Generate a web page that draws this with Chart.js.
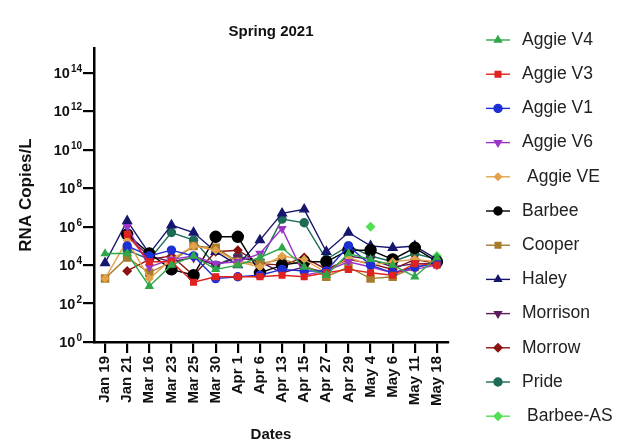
<!DOCTYPE html>
<html>
<head>
<meta charset="utf-8">
<script src="https://cdn.jsdelivr.net/npm/chart.js@4"></script>
<style>
  html, body { margin: 0; padding: 0; background: #fff; }
  #wrap { width: 621px; height: 444px; }
</style>
</head>
<body>
<div id="wrap"><canvas id="rnaChart" width="621" height="444"></canvas></div>
<script>
// Sampling dates (x categories)
const dates = ['Jan 19', 'Jan 21', 'Mar 16', 'Mar 23', 'Mar 25', 'Mar 30', 'Apr 1', 'Apr 6',
  'Apr 13', 'Apr 15', 'Apr 27', 'Apr 29', 'May 4', 'May 6', 'May 11', 'May 18'];

// Y ticks: value and the exponent printed after "10"
const yTickValues = [1, 1e2, 1e4, 1e6, 1e8, 1e10, 1e12, 1e14];
const yTickExponents = ['0', '2', '4', '6', '8', '10', '12', '14'];

// RNA copies / L per site
const aggieV4 = [4e4, 4e4, 8e2, 1e4, 3e4, 6e3, 1e4, 2.5e4, 8e4, 8e3, 3e3, 4e4, 2e4, 1e4, 2.5e3, 2.5e4];
const aggieV3 = [null, 4e5, 1.5e4, 1.5e4, 1.3e3, 2.5e3, 2.5e3, 2.5e3, 3e3, 2.5e3, 4e3, 6e3, 4e3, 3e3, 1.2e4, 1e4];
const aggieV1 = [null, 1e5, 3e4, 6e4, 3e4, 2e3, 2.5e3, 3e3, 6e3, 5e3, 5e3, 1e5, 1e4, 4e3, 8e3, 1.2e4];
const aggieV6 = [null, 1e6, 8e3, 2e4, 3e4, 1.2e4, 1.5e4, 4e4, 8e5, 3e3, 5e3, 1.5e4, 8e3, 4e3, 6e3, 1e4];
const aggieVE = [2e3, 2e5, 2e3, 2e4, 1e5, 6e4, 1.5e4, 8e3, 3e4, 2e4, 4e3, 2.5e4, 1e4, 1.5e4, 2e4, 1.5e4];
const barbee = [null, 4e5, 4e4, 6e3, 3e3, 3e5, 3e5, 4e3, 1e4, 1.5e4, 1.5e4, 6e4, 6e4, 2e4, 8e4, 1.5e4];
const cooper = [2e3, 2.5e4, 4e3, 1.5e4, 1e5, 8e4, 1.5e4, 1.2e4, 2e4, 1e4, 2.5e3, 8e3, 2e3, 2.5e3, 8e3, 1.2e4];
const haley = [1.3e4, 2e6, 4e4, 1.2e6, 5e5, 5e4, 1e4, 2e5, 5e6, 8e6, 5e4, 5e5, 1e5, 8e4, 1e5, 2e4];
const morrison = [null, 3e5, 3e4, 1.5e4, 2.5e4, 1e4, 2.5e4, 1.5e4, 4e3, 8e3, 4e3, 3e4, 2e4, 8e3, 1.2e4, 1.2e4];
const morrow = [null, 5e3, 2e4, 3e4, 3e3, 5e4, 6e4, 1.2e4, 1e4, 2.5e4, 6e3, 2e4, 1.2e4, 6e3, 2e4, 1.2e4];
const pride = [null, 6e4, 2e4, 5e5, 2e5, 1e4, 3e4, 1.5e4, 2.5e6, 1.6e6, 2e4, 1e5, 3e4, 1.5e4, 4e4, 2e4];
const barbeeAS = [null, null, null, null, null, null, null, null, null, null, null, null, 1e6, null, null, 3e4];

const FONT = "'Liberation Sans', Arial, 'DejaVu Sans', sans-serif";

function series(label, data, color, pointStyle, radius, rotation) {
  return {
    label: label,
    data: data,
    borderColor: color,
    backgroundColor: color,
    pointBackgroundColor: color,
    pointBorderColor: color,
    pointStyle: pointStyle,
    pointRadius: radius,
    pointRotation: rotation || 0,
    borderWidth: 1.4,
    tension: 0,
    spanGaps: false
  };
}

const datasets = [
  series('Aggie V4', aggieV4, '#2fa84a', 'triangle', 4),
  series('Aggie V3', aggieV3, '#e0231f', 'rect', 4),
  series('Aggie V1', aggieV1, '#1f2fd6', 'circle', 4),
  series('Aggie V6', aggieV6, '#9b34c8', 'triangle', 4, 180),
  series('Aggie VE', aggieVE, '#e3a24a', 'rectRot', 3.5),
  series('Barbee', barbee, '#000000', 'circle', 5.5),
  series('Cooper', cooper, '#a87a2c', 'rect', 5),
  series('Haley', haley, '#16166e', 'triangle', 5),
  series('Morrison', morrison, '#5b1b5e', 'triangle', 4.5, 180),
  series('Morrow', morrow, '#8c1212', 'rectRot', 4),
  series('Pride', pride, '#1e6b58', 'circle', 4),
  series('Barbee-AS', barbeeAS, '#52e052', 'rectRot', 4)
];

// "10" with a raised exponent next to each y tick
const powerTicks = {
  id: 'powerTicks',
  afterDraw(chart) {
    const ctx = chart.ctx;
    const scale = chart.scales.y;
    const right = scale.right - 12;
    ctx.save();
    ctx.fillStyle = '#111';
    ctx.textBaseline = 'alphabetic';
    yTickValues.forEach((v, i) => {
      const y = scale.getPixelForValue(v);
      const exp = yTickExponents[i];
      ctx.font = 'bold 10px ' + FONT;
      const expW = ctx.measureText(exp).width;
      ctx.textAlign = 'left';
      ctx.fillText(exp, right - expW, y - 1);
      ctx.font = 'bold 14.5px ' + FONT;
      ctx.textAlign = 'right';
      ctx.fillText('10', right - expW - 1, y + 5);
    });
    ctx.restore();
  }
};

// Legend drawn on the right: line through marker + label
const sideLegend = {
  id: 'sideLegend',
  afterDraw(chart) {
    const ctx = chart.ctx;
    const drawPoint = Chart.helpers && Chart.helpers.drawPoint;
    ctx.save();
    chart.data.datasets.forEach((ds, i) => {
      const y = 40 + i * 34.2;
      ctx.strokeStyle = ds.borderColor;
      ctx.lineWidth = 1.4;
      ctx.beginPath();
      ctx.moveTo(486, y);
      ctx.lineTo(510, y);
      ctx.stroke();
      ctx.fillStyle = ds.borderColor;
      if (drawPoint) {
        drawPoint(ctx, {
          pointStyle: ds.pointStyle,
          radius: Math.min(ds.pointRadius, 4),
          rotation: ds.pointRotation,
          borderWidth: 1
        }, 498, y);
      }
      ctx.fillStyle = '#222';
      ctx.font = '17.5px ' + FONT;
      ctx.textBaseline = 'middle';
      ctx.textAlign = 'left';
      const dx = (ds.label === 'Aggie VE' || ds.label === 'Barbee-AS') ? 5 : 0;
      ctx.fillText(ds.label, 522 + dx, y);
    });
    ctx.restore();
  }
};

new Chart(document.getElementById('rnaChart').getContext('2d'), {
  type: 'line',
  data: {
    labels: dates,
    datasets: datasets
  },
  options: {
    responsive: false,
    animation: false,
    layout: {
      padding: { left: 0, right: 173, top: 0, bottom: 0 }
    },
    plugins: {
      legend: { display: false },
      tooltip: { enabled: false },
      title: {
        display: true,
        text: 'Spring 2021',
        fullSize: false,
        color: '#111',
        font: { family: FONT, size: 15, weight: 'bold' },
        padding: { top: 23, bottom: 7 }
      }
    },
    scales: {
      x: {
        type: 'category',
        offset: true,
        afterFit(scale) { scale.height = 102; },
        grid: {
          drawOnChartArea: false,
          drawTicks: true,
          tickLength: 11,
          color: '#000',
          lineWidth: 2.2
        },
        border: { color: '#000', width: 2.5 },
        ticks: {
          color: '#111',
          minRotation: 90,
          maxRotation: 90,
          autoSkip: false,
          padding: 3,
          font: { family: FONT, size: 15, weight: 'bold' }
        },
        title: {
          display: true,
          text: 'Dates',
          color: '#111',
          font: { family: FONT, size: 15, weight: 'bold' },
          padding: { top: 0, bottom: 0 }
        }
      },
      y: {
        type: 'logarithmic',
        min: 1,
        max: 2e15,
        afterFit(scale) { scale.width = 94; },
        afterBuildTicks(scale) {
          scale.ticks = yTickValues.map(v => ({ value: v }));
        },
        grid: {
          drawOnChartArea: false,
          drawTicks: true,
          tickLength: 11,
          color: '#000',
          lineWidth: 2.2
        },
        border: { color: '#000', width: 2.5 },
        ticks: {
          color: '#111',
          padding: 3,
          font: { family: FONT, size: 13, weight: 'bold' },
          callback() { return ''; }
        },
        title: {
          display: true,
          text: 'RNA Copies/L',
          color: '#111',
          font: { family: FONT, size: 17, weight: 'bold' },
          padding: { top: 16, bottom: 0 }
        }
      }
    }
  },
  plugins: [powerTicks, sideLegend]
});
</script>
</body>
</html>
